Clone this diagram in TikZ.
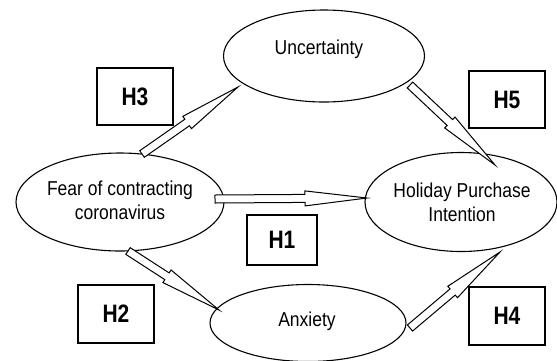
\documentclass[tikz,border=0pt]{standalone}
\usepackage{fontspec}
\setmainfont{Liberation Sans}
\usepackage{graphicx}
\usetikzlibrary{shapes.geometric,calc}
\newcommand\vtxt[1]{\scalebox{1}[1.15]{\begin{tabular}{@{}c@{}}#1\end{tabular}}}
\newcommand\htxt[1]{\scalebox{1}[1.2]{#1}}
\newcommand\blockarr[2]{%
  \coordinate (hb) at ($(#2)!62pt!(#1)$);
  \draw[barrow] ($(#1)!4pt!90:(#2)$) -- ($(hb)!4pt!90:(#2)$) -- ($(hb)!7.5pt!90:(#2)$)
    -- (#2) -- ($(hb)!7.5pt!-90:(#2)$) -- ($(hb)!4pt!-90:(#2)$) -- ($(#1)!4pt!-90:(#2)$) -- cycle;}
\begin{document}
\begin{tikzpicture}[x=1pt,y=-1pt,
  ell/.style={draw, ellipse, line width=1.1pt, inner sep=0pt},
  etext/.style={inner sep=0pt, font=\fontsize{17.5}{21}\selectfont},
  hbox/.style={draw, line width=1.1pt, inner sep=0pt, font=\fontsize{21}{24}\selectfont\bfseries},
  barrow/.style={draw, fill=white, line width=1pt, line join=miter}]
\useasboundingbox (0,0) rectangle (557,360);
% ellipses
\node[ell, minimum width=201pt, minimum height=92pt] (unc) at (324,56) {};
\node[etext] (unct) at (319,50) {\vtxt{Uncertainty}};
\node[ell, minimum width=208pt, minimum height=98pt] (fear) at (120,202) {};
\node[etext] (feart) at (120,203) {\vtxt{Fear of contracting\\coronavirus}};
\node[ell, minimum width=192pt, minimum height=99pt] (hol) at (461,202) {};
\node[etext] (holt) at (462,205) {\vtxt{Holiday Purchase\\Intention}};
\node[ell, minimum width=196pt, minimum height=77pt] (anx) at (308,323) {};
\node[etext] (anxt) at (307,322) {\vtxt{Anxiety}};
% hypothesis boxes
\node[hbox, minimum width=76pt, minimum height=57pt] (h3) at (135,96.5) {\htxt{H3}};
\node[hbox, minimum width=76pt, minimum height=57pt] (h5) at (507,99.5) {\htxt{H5}};
\node[hbox, minimum width=70pt, minimum height=50pt] (h1) at (282,240) {\htxt{H1}};
\node[hbox, minimum width=76pt, minimum height=58pt] (h2) at (116,314) {\htxt{H2}};
\node[hbox, minimum width=76pt, minimum height=58pt] (h4) at (507,316) {\htxt{H4}};
% arrow end points
\coordinate (t1) at (215,199); \coordinate (p1) at (367,198);
\coordinate (t3) at (142,154); \coordinate (p3) at (238,87);
\coordinate (t5) at (410,85);  \coordinate (p5) at (495,165);
\coordinate (t2) at (128,251); \coordinate (p2) at (219,310);
\coordinate (t4) at (410,328); \coordinate (p4) at (500,252);
\blockarr{t1}{p1}
\blockarr{t3}{p3}
\blockarr{t5}{p5}
\blockarr{t2}{p2}
\blockarr{t4}{p4}
\end{tikzpicture}
\end{document}
